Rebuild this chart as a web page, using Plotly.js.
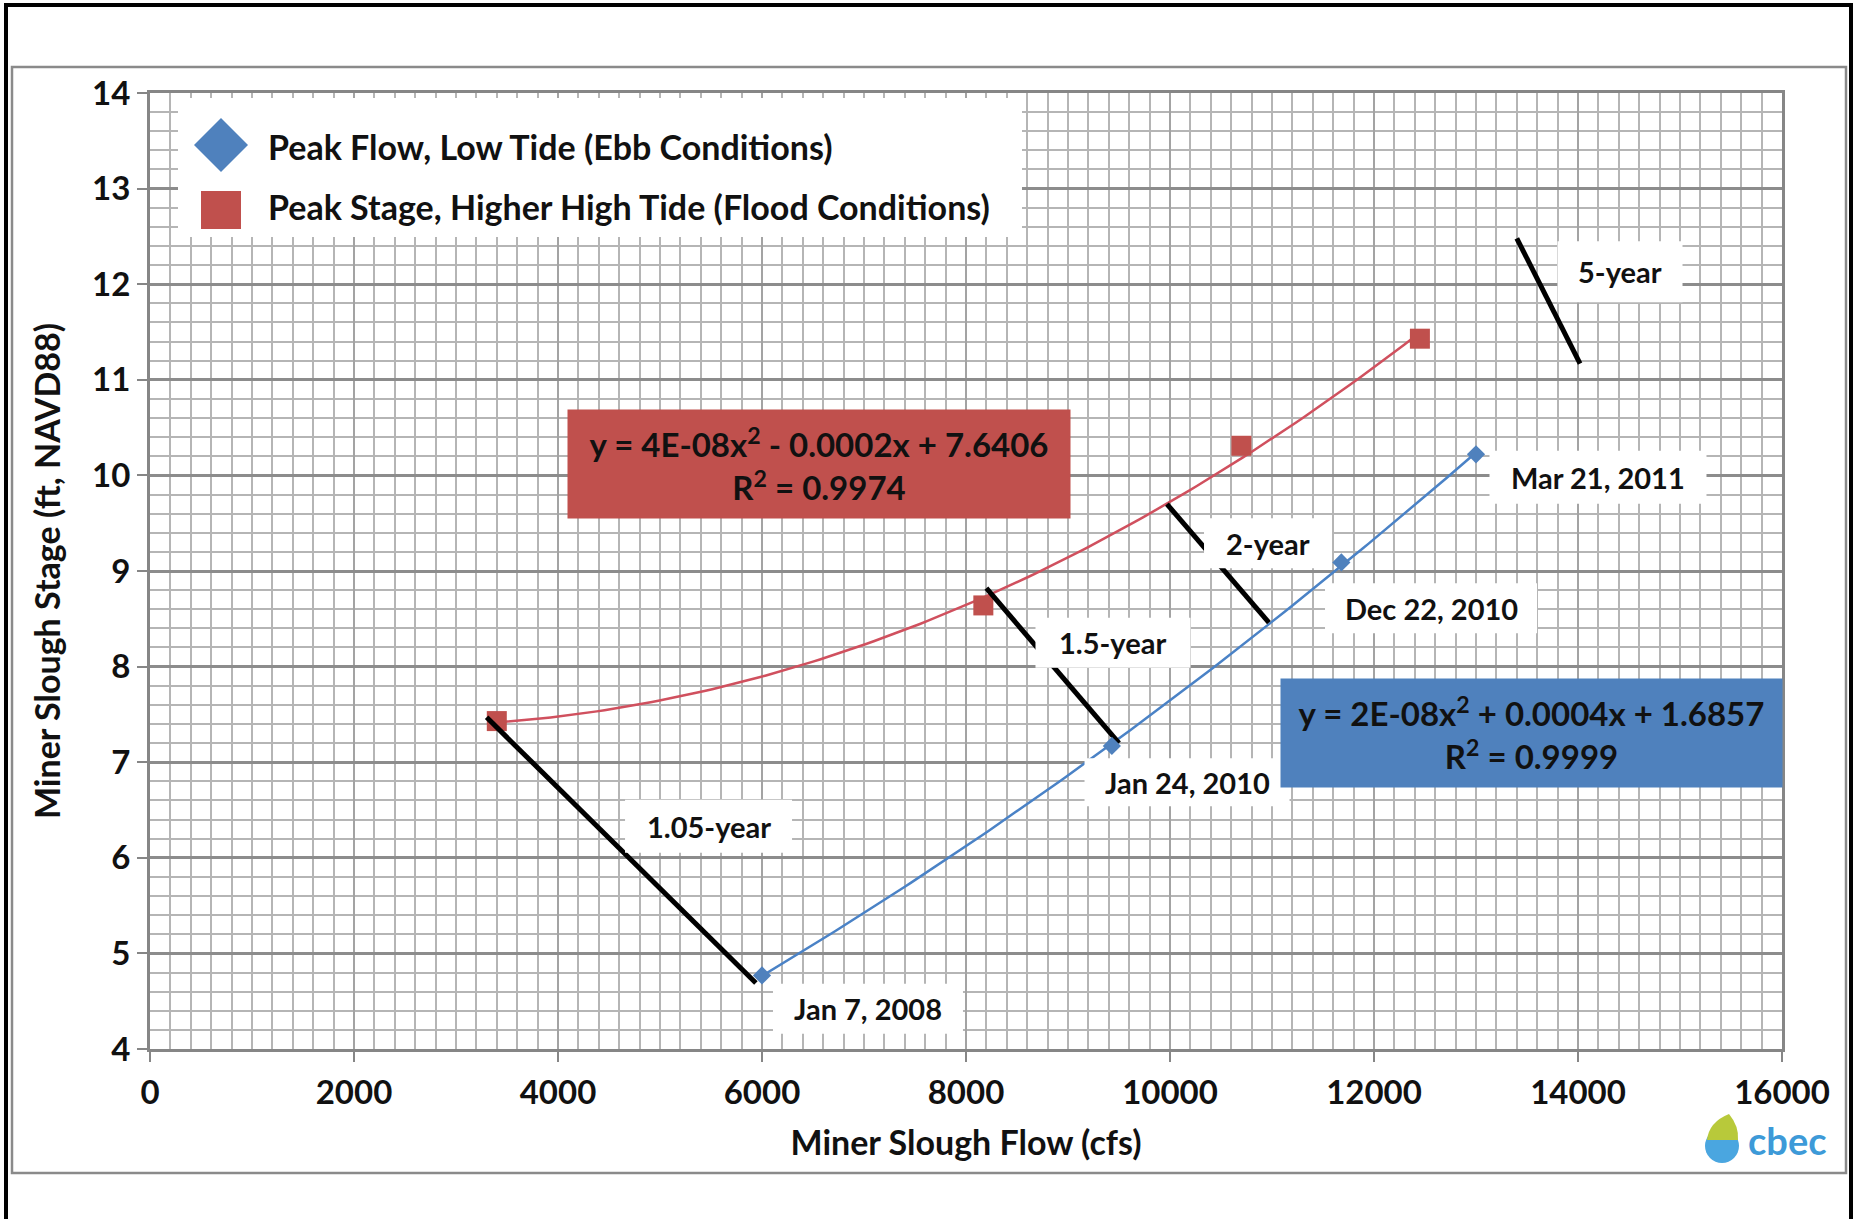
<!DOCTYPE html>
<html>
<head>
<meta charset="utf-8">
<script src="https://cdn.plot.ly/plotly-3.0.1.min.js"></script>
<style>
  html, body { margin: 0; padding: 0; background: #ffffff; }
  #chart { width: 1858px; height: 1219px; }
</style>
</head>
<body>
<div id="chart"></div>
<script>
// ---------------- DATA ----------------
const ebbFlow   = [6000, 9430, 11680, 13000];
const ebbStage  = [4.77, 7.17, 9.09, 10.22];
const ebbDates  = ['Jan 7, 2008', 'Jan 24, 2010', 'Dec 22, 2010', 'Mar 21, 2011'];

const floodFlow  = [3400, 8170, 10700, 12450];
const floodStage = [7.43, 8.64, 10.31, 11.43];

const returnPeriods   = ['1.05-year', '1.5-year', '2-year', '5-year'];
const rpFlowStart     = [3300, 8200, 9970, 13400];
const rpStageStart    = [7.47, 8.82, 9.70, 12.48];
const rpFlowEnd       = [5940, 9500, 10970, 14020];
const rpStageEnd      = [4.69, 7.20, 8.46, 11.17];

// label anchor points (data coordinates)
const rpLabelFlow     = [5476, 9441, 10961, 14412];
const rpLabelStage    = [6.33, 8.25, 9.29, 12.13];
const dateLabelFlow   = [7039, 10167, 12559, 14196];
const dateLabelStage  = [4.42, 6.79, 8.61, 9.98];

const seriesNames = ['Peak Flow, Low Tide (Ebb Conditions)', 'Peak Stage, Higher High Tide (Flood Conditions)'];
const floodEquation = 'y = 4E-08x<sup>2</sup> - 0.0002x + 7.6406<br>R<sup>2</sup> = 0.9974';
const ebbEquation   = 'y = 2E-08x<sup>2</sup> + 0.0004x + 1.6857<br>R<sup>2</sup> = 0.9999';
const eqAnchorFlow  = [6559, 13544];
const eqAnchorStage = [10.12, 7.31];

// ---------------- HELPERS ----------------
// least-squares quadratic trendline (as the spreadsheet does)
function quadFit(xs, ys) {
  let s0 = xs.length, s1 = 0, s2 = 0, s3 = 0, s4 = 0, t0 = 0, t1 = 0, t2 = 0;
  for (let i = 0; i < xs.length; i++) {
    const x = xs[i], y = ys[i];
    s1 += x; s2 += x * x; s3 += x * x * x; s4 += x * x * x * x;
    t0 += y; t1 += x * y; t2 += x * x * y;
  }
  const M = [[s4, s3, s2, t2], [s3, s2, s1, t1], [s2, s1, s0, t0]];
  for (let c = 0; c < 3; c++) {
    for (let r = c + 1; r < 3; r++) {
      const f = M[r][c] / M[c][c];
      for (let k = c; k < 4; k++) M[r][k] -= f * M[c][k];
    }
  }
  const sol = [0, 0, 0];
  for (let r = 2; r >= 0; r--) {
    let s = M[r][3];
    for (let k = r + 1; k < 3; k++) s -= M[r][k] * sol[k];
    sol[r] = s / M[r][r];
  }
  return sol; // a, b, c
}
function trendCurve(xs, ys) {
  const [a, b, c] = quadFit(xs, ys);
  const x0 = Math.min(...xs), x1 = Math.max(...xs);
  const X = [], Y = [];
  for (let i = 0; i <= 120; i++) {
    const x = x0 + (x1 - x0) * i / 120;
    X.push(x); Y.push(a * x * x + b * x + c);
  }
  return { X, Y };
}

const ebbTrend = trendCurve(ebbFlow, ebbStage);
const floodTrend = trendCurve(floodFlow, floodStage);

const rpX = [], rpY = [];
for (let i = 0; i < returnPeriods.length; i++) {
  rpX.push(rpFlowStart[i], rpFlowEnd[i], null);
  rpY.push(rpStageStart[i], rpStageEnd[i], null);
}

// ---------------- STYLE ----------------
const FONT = 'Lato, "Open Sans", "DejaVu Sans", sans-serif';
const RED = '#C0504D', BLUE = '#4F81BD';
const L = 150, R = 1782, T = 93, B = 1049, W = 1858, H = 1219;
const px = v => (v - L) / (R - L);
const py = v => (B - v) / (B - T);

const traces = [
  { x: floodTrend.X, y: floodTrend.Y, mode: 'lines', line: { color: '#D0505E', width: 2.5 },
    showlegend: false, hoverinfo: 'skip' },
  { x: ebbTrend.X, y: ebbTrend.Y, mode: 'lines', line: { color: '#4A82C6', width: 2.5 },
    showlegend: false, hoverinfo: 'skip' },
  { x: floodFlow, y: floodStage, name: seriesNames[1], mode: 'markers',
    marker: { symbol: 'square', size: 20, color: RED }, showlegend: false },
  { x: rpX, y: rpY, mode: 'lines', line: { color: '#000000', width: 5 },
    showlegend: false, hoverinfo: 'skip', connectgaps: false },
  { x: ebbFlow, y: ebbStage, name: seriesNames[0], mode: 'markers',
    marker: { symbol: 'diamond', size: 14, color: BLUE }, showlegend: false }
];

// white label boxes drawn as pixel-sized rectangles behind the label text
const labelBoxes = {
  '1.05-year': [167, 53], '1.5-year': [155, 50], '2-year': [128, 50], '5-year': [125, 61],
  'Jan 7, 2008': [190, 50], 'Jan 24, 2010': [205, 48], 'Dec 22, 2010': [212, 50], 'Mar 21, 2011': [217, 53]
};

const LBL = 29;
const annotations = [];
const shapes = [];
function addLabel(t, x, y) {
  const [bw, bh] = labelBoxes[t];
  shapes.push({ type: 'rect', xref: 'x', yref: 'y', xsizemode: 'pixel', ysizemode: 'pixel',
    xanchor: x, yanchor: y, x0: -bw / 2, x1: bw / 2, y0: -bh / 2, y1: bh / 2,
    fillcolor: '#ffffff', line: { width: 0 }, layer: 'above' });
  annotations.push({ x: x, y: y, xref: 'x', yref: 'y', text: t, showarrow: false,
    font: { family: FONT, size: LBL, color: '#111111', weight: 'bold' } });
}
returnPeriods.forEach((t, i) => addLabel(t, rpLabelFlow[i], rpLabelStage[i]));
ebbDates.forEach((t, i) => addLabel(t, dateLabelFlow[i], dateLabelStage[i]));

annotations.push({ x: eqAnchorFlow[0], y: eqAnchorStage[0], xref: 'x', yref: 'y', text: floodEquation,
  showarrow: false, bgcolor: RED, borderpad: 0, width: 502, height: 108,
  font: { family: FONT, size: 33, color: '#111111', weight: 'bold' } });
annotations.push({ x: eqAnchorFlow[1], y: eqAnchorStage[1], xref: 'x', yref: 'y', text: ebbEquation,
  showarrow: false, bgcolor: BLUE, borderpad: 0, width: 501, height: 108,
  font: { family: FONT, size: 33, color: '#111111', weight: 'bold' } });
// legend texts
annotations.push({ x: px(266), y: py(147), xref: 'paper', yref: 'paper', xanchor: 'left', yanchor: 'middle',
  text: seriesNames[0], showarrow: false, font: { family: FONT, size: 34, color: '#111111', weight: 'bold' } });
annotations.push({ x: px(266), y: py(207), xref: 'paper', yref: 'paper', xanchor: 'left', yanchor: 'middle',
  text: seriesNames[1], showarrow: false, font: { family: FONT, size: 34, color: '#111111', weight: 'bold' } });
// logo text
annotations.push({ x: px(1746), y: py(1140), xref: 'paper', yref: 'paper', xanchor: 'left', yanchor: 'middle',
  text: 'cbec', showarrow: false, font: { family: FONT, size: 38, color: '#3D9AD8' } });

shapes.push(
  // outer frame
  { type: 'rect', xref: 'paper', yref: 'paper', x0: px(6), x1: px(1851), y0: py(1240), y1: py(5),
    line: { color: '#000000', width: 4 }, fillcolor: 'rgba(0,0,0,0)', layer: 'above' },
  // inner frame
  { type: 'rect', xref: 'paper', yref: 'paper', x0: px(12), x1: px(1846), y0: py(1173), y1: py(67),
    line: { color: '#8a8a8a', width: 2.5 }, fillcolor: 'rgba(0,0,0,0)', layer: 'above' },
  // legend box
  { type: 'rect', xref: 'paper', yref: 'paper', x0: px(178), x1: px(1022), y0: py(237), y1: py(98),
    line: { width: 0 }, fillcolor: '#ffffff', layer: 'above' },
  // legend diamond
  { type: 'path', xref: 'paper', yref: 'paper', xsizemode: 'pixel', ysizemode: 'pixel',
    xanchor: px(221), yanchor: py(145), path: 'M -27 0 L 0 27 L 27 0 L 0 -27 Z',
    fillcolor: BLUE, line: { width: 0 }, layer: 'above' },
  // legend square
  { type: 'rect', xref: 'paper', yref: 'paper', x0: px(201), x1: px(241), y0: py(229), y1: py(191),
    fillcolor: RED, line: { width: 0 }, layer: 'above' },
  // logo droplet
  { type: 'circle', xref: 'paper', yref: 'paper', xsizemode: 'pixel', ysizemode: 'pixel',
    xanchor: px(1722), yanchor: py(1146), x0: -17, x1: 17, y0: -17, y1: 17,
    fillcolor: '#4AA6E0', line: { width: 0 }, layer: 'above' },
  { type: 'path', xref: 'paper', yref: 'paper', xsizemode: 'pixel', ysizemode: 'pixel',
    xanchor: px(1723), yanchor: py(1140), path: 'M -16 0 Q -14 18 6 26 Q 16 14 15 0 Z',
    fillcolor: '#B8C93A', line: { width: 0 }, layer: 'above' }
);

const layout = {
  width: W, height: H,
  margin: { l: L, r: W - R, t: T, b: H - B, pad: 0 },
  paper_bgcolor: '#ffffff', plot_bgcolor: '#ffffff',
  font: { family: FONT, color: '#111111', weight: 'bold' },
  showlegend: false,
  xaxis: {
    range: [0, 16000], tick0: 0, dtick: 2000, autorange: false,
    tickformat: 'd',
    showgrid: true, gridcolor: '#a3a3a3', gridwidth: 2,
    minor: { dtick: 200, showgrid: true, gridcolor: '#b5b5b5', gridwidth: 2 },
    showline: true, linecolor: '#868686', linewidth: 3, mirror: true,
    ticks: 'outside', ticklen: 10, tickwidth: 2, tickcolor: '#868686',
    tickfont: { family: FONT, size: 33, color: '#111111', weight: 'bold' },
    ticklabelstandoff: 2,
    zeroline: false,
    title: { text: 'Miner Slough Flow (cfs)', standoff: 22,
      font: { family: FONT, size: 34, color: '#111111', weight: 'bold' } }
  },
  yaxis: {
    range: [4, 14], tick0: 4, dtick: 1, autorange: false,
    showgrid: true, gridcolor: '#8c8c8c', gridwidth: 3,
    minor: { dtick: 0.2, showgrid: true, gridcolor: '#b5b5b5', gridwidth: 2 },
    showline: true, linecolor: '#868686', linewidth: 3, mirror: true,
    ticks: 'outside', ticklen: 10, tickwidth: 2, tickcolor: '#868686',
    tickfont: { family: FONT, size: 33, color: '#111111', weight: 'bold' },
    zeroline: false,
    title: { text: 'Miner Slough Stage (ft, NAVD88)', standoff: 22,
      font: { family: FONT, size: 34, color: '#111111', weight: 'bold' } }
  },
  annotations: annotations,
  shapes: shapes
};

Plotly.newPlot('chart', traces, layout, { displayModeBar: false, staticPlot: true });
</script>
</body>
</html>
